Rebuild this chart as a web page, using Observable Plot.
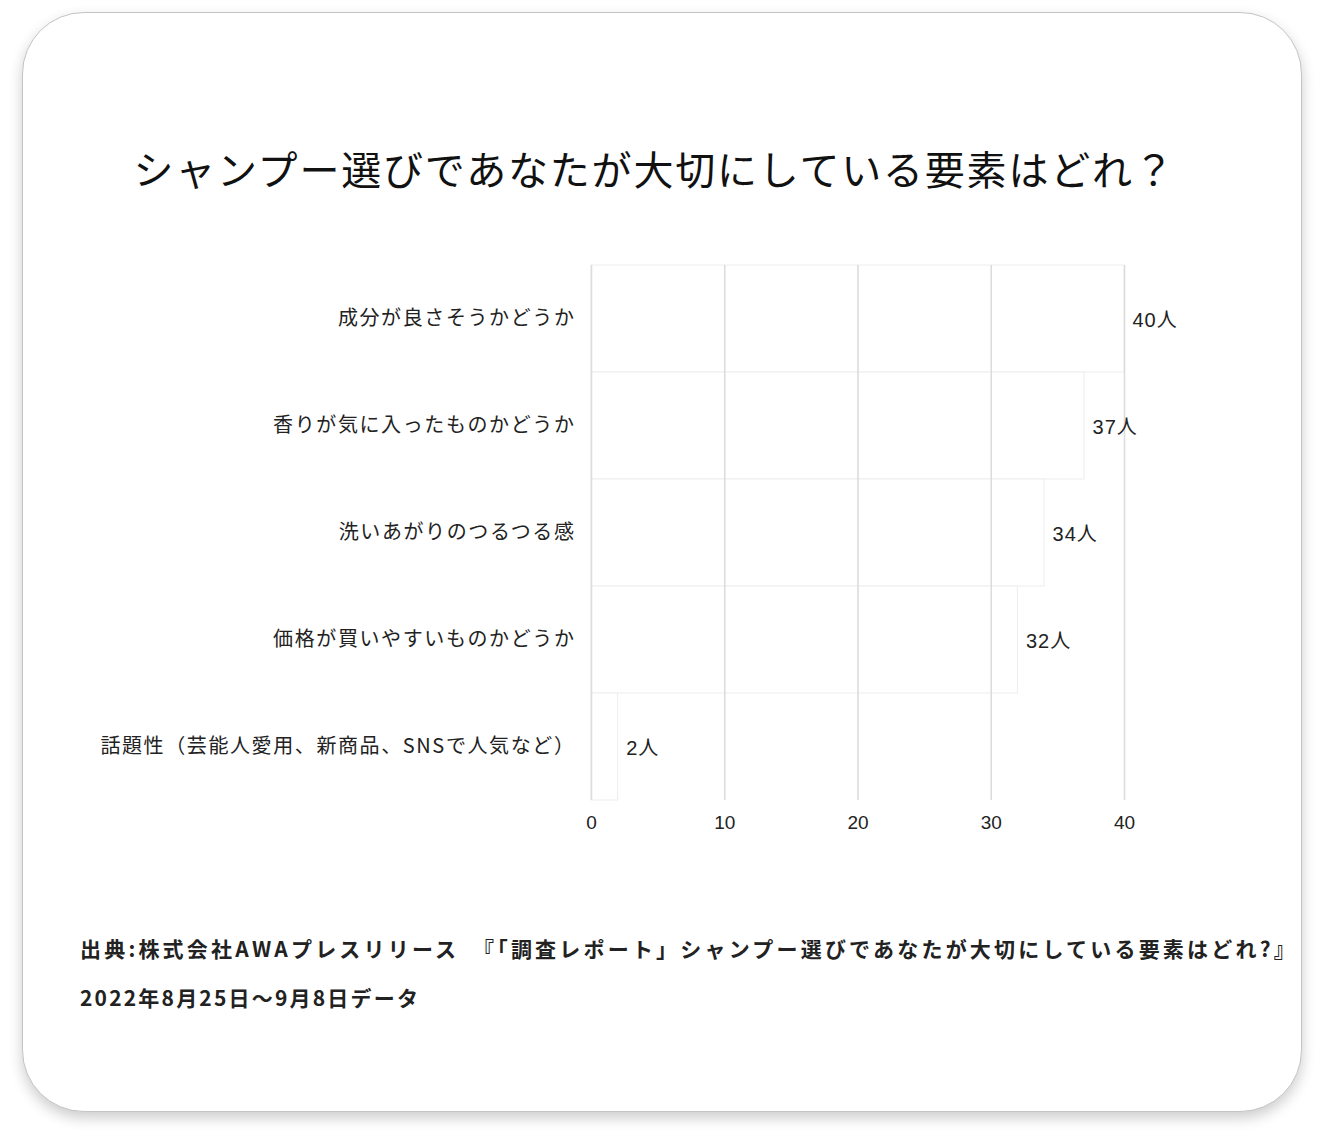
<!DOCTYPE html>
<html>
<head>
<meta charset="utf-8">
<script src="https://cdn.jsdelivr.net/npm/d3@7"></script>
<script src="https://cdn.jsdelivr.net/npm/@observablehq/plot@0.6"></script>
<style>
  html, body { margin: 0; padding: 0; background: #ffffff; }
  body { width: 1324px; height: 1144px; position: relative; overflow: hidden;
         font-family: "Noto Sans CJK JP", "Noto Sans", sans-serif; }
  #card { position: absolute; left: 22px; top: 12px; width: 1278px; height: 1098px;
          border: 1.5px solid #c4c4c4; border-radius: 62px; background: #fff;
          box-shadow: 0 6px 14px rgba(0,0,0,0.20); }
  #title { position: absolute; left: 0; top: 146px; width: 1309px; text-align: center;
           font-size: 40px; line-height: 44px; letter-spacing: 1.8px; color: #111;
           font-family: "Noto Sans CJK JP", sans-serif; font-weight: 400; }
  #chart { position: absolute; left: 0; top: 247px; }
  .cap { position: absolute; left: 80px; font-size: 21px; line-height: 24px; font-weight: 700;
         color: #222; white-space: nowrap;
         font-family: "Noto Sans CJK JP", sans-serif; }
</style>
</head>
<body>
<div id="card"></div>
<div id="title"></div>
<div id="chart"></div>
<div class="cap" id="cap1" style="top:936px; letter-spacing:3.2px"></div>
<div class="cap" id="cap2" style="top:985px; letter-spacing:2.2px"></div>
<script>
const titleText = "シャンプー選びであなたが大切にしている要素はどれ？";
const categories = [
  "成分が良さそうかどうか",
  "香りが気に入ったものかどうか",
  "洗いあがりのつるつる感",
  "価格が買いやすいものかどうか",
  "話題性（芸能人愛用、新商品、SNSで人気など）"
];
const values = [40, 37, 34, 32, 2];
const unit = "人";
const xTicks = [0, 10, 20, 30, 40];
const captionLines = [
  "出典:株式会社AWAプレスリリース　『「調査レポート」シャンプー選びであなたが大切にしている要素はどれ?』",
  "2022年8月25日～9月8日データ"
];

document.getElementById("title").textContent = titleText;
document.getElementById("cap1").textContent = captionLines[0];
document.getElementById("cap2").textContent = captionLines[1];

const data = categories.map((c, i) => ({category: c, value: values[i]}));

const chart = Plot.plot({
  width: 1324,
  height: 620,
  marginLeft: 591,
  marginRight: 200,
  marginTop: 18,
  marginBottom: 67,
  style: {fontFamily: "'Liberation Sans', 'Noto Sans CJK JP', sans-serif", background: "transparent", color: "#222"},
  x: {domain: [0, 40], ticks: xTicks, label: null, tickSize: 0, tickPadding: 16},
  y: {domain: categories, label: null, tickSize: 0, tickPadding: 16, padding: 0},
  marks: [
    Plot.barX(data, {x: "value", y: "category", fill: "#ffffff", stroke: "#ededed", strokeWidth: 1}),
    Plot.ruleX(xTicks, {stroke: "#dcdcdc", strokeWidth: 1.6}),
    Plot.text(data, {x: "value", y: "category", text: d => d.value + unit, dx: 8, dy: 2, textAnchor: "start",
                     fontSize: 20, fill: "#222"}),
    Plot.axisX({ticks: xTicks, tickSize: 0, tickPadding: 15, fontSize: 19, label: null}),
    Plot.axisY({tickSize: 0, tickPadding: 16, fontSize: 20, label: null,
                fontFamily: "'Noto Sans CJK JP', sans-serif"})
  ]
});
chart.querySelectorAll("g[aria-label='y-axis tick label'] text").forEach(t => {
  t.setAttribute("letter-spacing", "1.6");
  t.setAttribute("fill", "#222");
});
chart.querySelectorAll("g[aria-label='text'] text").forEach(t => t.setAttribute("letter-spacing", "1"));
document.getElementById("chart").appendChild(chart);
</script>
</body>
</html>
